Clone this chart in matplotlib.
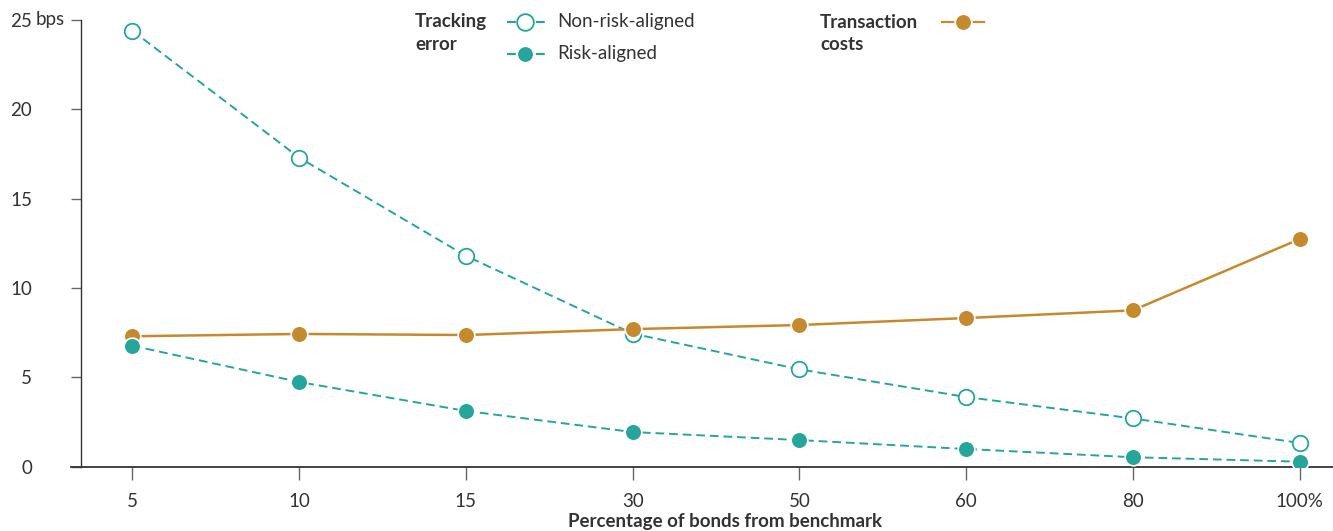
import matplotlib
matplotlib.use("Agg")
import matplotlib.pyplot as plt
from matplotlib.lines import Line2D

plt.rcParams['font.family'] = ['Lato', 'DejaVu Sans']

categories = ["5", "10", "15", "30", "50", "60", "80", "100%"]
non_risk_aligned = [24.4, 17.3, 11.8, 7.45, 5.45, 3.9, 2.7, 1.33]
risk_aligned = [6.77, 4.74, 3.12, 1.94, 1.49, 0.99, 0.53, 0.28]
transaction_costs = [7.3, 7.43, 7.37, 7.7, 7.93, 8.32, 8.75, 12.74]
y_ticks = [0, 5, 10, 15, 20, 25]

TEAL = '#26A69A'
GOLD = '#C68A2E'
TXT = '#333333'
FS = 13.5

W, H = 1333, 531
fig = plt.figure(figsize=(W / 100, H / 100), dpi=100)
ax = fig.add_axes([70.7 / W, (H - 466.7) / H, 1 - 70.7 / W, (466.7 - 15) / H])

x = list(range(len(categories)))
ms = 12
DASH = (0, (4.5, 2.5))
ax.plot(x, transaction_costs, color=GOLD, lw=1.8, marker='o', ms=ms,
        mfc=GOLD, mec='white', mew=1.2, zorder=3)
ax.plot(x, non_risk_aligned, color=TEAL, lw=1.4, ls=DASH, marker='o', ms=ms - 0.8,
        mfc='white', mec=TEAL, mew=1.3, zorder=2)
ax.plot(x, risk_aligned, color=TEAL, lw=1.4, ls=DASH, marker='o', ms=ms,
        mfc=TEAL, mec='white', mew=1.2, zorder=4)

ax.set_xlim(-0.37, 7.2)
ax.set_ylim(0, 25.28)

for s in ['top', 'right']:
    ax.spines[s].set_visible(False)
ax.spines['left'].set_position(('data', -0.306))
ax.spines['left'].set_bounds(0, 25)
ax.spines['left'].set_color(TXT)
ax.spines['bottom'].set_color(TXT)
ax.spines['left'].set_linewidth(1.0)
ax.spines['bottom'].set_linewidth(1.3)

ax.set_xticks(x)
ax.set_xticklabels(categories)
ax.set_yticks(y_ticks)
ax.set_yticklabels([str(v) for v in y_ticks])
ax.tick_params(axis='x', length=9, width=1.0, color='#666666', labelsize=FS,
               labelcolor=TXT, pad=10)
ax.tick_params(axis='y', length=7.5, width=1.0, color='#666666', labelsize=FS,
               labelcolor=TXT, pad=28)
for lab in ax.get_yticklabels():
    lab.set_horizontalalignment('right')

fig.text(36 / W, 1 - 20 / H, 'bps', fontsize=FS, color=TXT, ha='left', va='center')

fig.text(725 / W, 1 - 521 / H, 'Percentage of bonds from benchmark', fontsize=FS,
         fontweight='bold', color=TXT, ha='center', va='center')

# Legend
fig.text(415 / W, 1 - 22 / H, 'Tracking', fontsize=FS, fontweight='bold', color=TXT,
         ha='left', va='center')
fig.text(415 / W, 1 - 44 / H, 'error', fontsize=FS, fontweight='bold', color=TXT,
         ha='left', va='center')
fig.text(820 / W, 1 - 22 / H, 'Transaction', fontsize=FS, fontweight='bold', color=TXT,
         ha='left', va='center')
fig.text(820 / W, 1 - 44 / H, 'costs', fontsize=FS, fontweight='bold', color=TXT,
         ha='left', va='center')

def legend_marker(x0, x1, xc, yc, color, ls, mfc, mec):
    fig.add_artist(Line2D([x0 / W, x1 / W], [1 - yc / H, 1 - yc / H], color=color,
                          lw=1.6, ls=ls))
    fig.add_artist(Line2D([xc / W], [1 - yc / H], marker='o', ms=ms, mfc=mfc,
                          mec=mec, mew=1.3, ls='none'))

legend_marker(507, 547, 525, 22, TEAL, (0, (4, 2.5)), 'white', TEAL)
legend_marker(507, 547, 525, 54, TEAL, (0, (4, 2.5)), TEAL, 'white')
legend_marker(942, 984, 963, 22, GOLD, '-', GOLD, 'white')
fig.text(557 / W, 1 - 22 / H, 'Non-risk-aligned', fontsize=FS, color=TXT, ha='left', va='center')
fig.text(557 / W, 1 - 54 / H, 'Risk-aligned', fontsize=FS, color=TXT, ha='left', va='center')

fig.savefig('out.png', dpi=100)
